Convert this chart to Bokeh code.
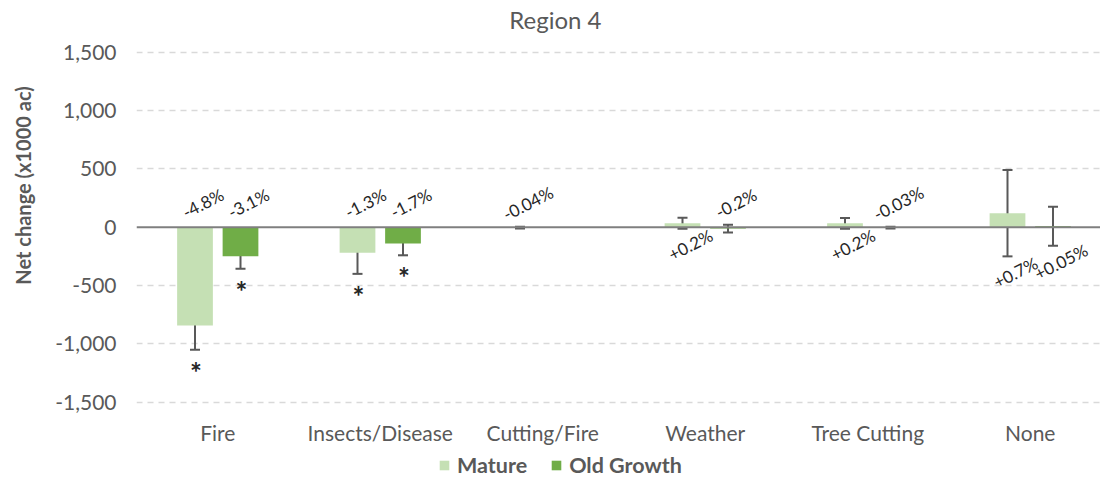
import math
from bokeh.plotting import figure
from bokeh.layouts import row
from bokeh.models import (ColumnDataSource, Range1d, FixedTicker, NumeralTickFormatter,
                          Whisker, TeeHead, Span, Legend, LegendItem)
from bokeh.core.properties import value
from bokeh.embed import file_html
from bokeh.resources import INLINE

# ---- data ----
categories = ["Fire", "Insects/Disease", "Cutting/Fire", "Weather", "Tree Cutting", "None"]
mature = [-843, -219, -4, 34, 33, 120]
mature_err = [208, 181, 7, 47, 46, 370]
mature_pct = ["-4.8%", "-1.3%", "-0.04%", "+0.2%", "+0.2%", "+0.7%"]
mature_sig = [True, True, False, False, False, False]
old_growth = [-248, -140, None, -12, -4, 8]
old_growth_err = [108, 101, None, 33, 8, 167]
old_growth_pct = ["-3.1%", "-1.7%", None, "-0.2%", "-0.03%", "+0.05%"]
old_growth_sig = [True, True, False, False, False, False]
y_ticks = [-1500, -1000, -500, 0, 500, 1000, 1500]
title = "Region 4"
y_title = "Net change (x1000 ac)"

FONT = "Lato"
GREY = "#595959"
DARK = "#262626"
C_MATURE = "#C5E0B4"
C_OLD = "#70AD47"
BAR_W = 0.22
OFFSET = 0.14

# ---- layout (pixels) ----
W, H = 1100, 478
SIDE_W = 40                     # strip holding the y-axis title
LEFT = 136                      # plot area left edge on the page
PX_PER_UNIT = 350 / 3000.0      # gridline spacing
ZERO_PX = 226.7                 # zero line from top of canvas
PX_PER_CAT = 162.5
y_end = ZERO_PX / PX_PER_UNIT
y_start = -(H - ZERO_PX) / PX_PER_UNIT
x_end = (W - LEFT) / PX_PER_CAT


def make_source(vals, errs, pcts, sigs, off):
    xs, ys, lo, hi, lab, laby, labyo, sx, sy = [], [], [], [], [], [], [], [], []
    for i, (v, e, t, s) in enumerate(zip(vals, errs, pcts, sigs)):
        if v is None:
            continue
        x = i + 0.5 + off
        xs.append(x)
        ys.append(v)
        lo.append(v - e)
        hi.append(v + e)
        lab.append(t)
        if v < 0:
            laby.append(0)
            labyo.append(-24)
        else:
            laby.append(min(0, v - e))
            labyo.append(16)
        if s:
            sx.append(x)
            sy.append(v - e)
    src = ColumnDataSource(dict(x=xs, top=ys, lower=lo, upper=hi, label=lab,
                                ly=laby, lyo=labyo))
    star = ColumnDataSource(dict(x=sx, y=sy, t=["*"] * len(sx)))
    return src, star


# ---- strip with the y-axis title ----
side = figure(width=SIDE_W, height=H, output_backend="svg", toolbar_location=None,
              x_range=Range1d(0, SIDE_W), y_range=Range1d(0, H),
              x_axis_location=None, y_axis_location=None,
              min_border_left=0, min_border_right=0, min_border_top=0,
              min_border_bottom=0)
side.outline_line_color = None
side.grid.visible = False
side.text(x=[22], y=[H - 185], text=[y_title], angle=math.pi / 2,
          text_align="center", text_baseline="middle", text_font=value(FONT),
          text_font_size="20px", text_font_style="bold", text_color=GREY)

# ---- main chart ----
p = figure(width=W - SIDE_W, height=H, output_backend="svg", toolbar_location=None,
           x_range=Range1d(0, x_end), y_range=Range1d(y_start, y_end),
           x_axis_location=None,
           min_border_left=LEFT - SIDE_W, min_border_right=0, min_border_top=0,
           min_border_bottom=0)
p.outline_line_color = None
p.background_fill_color = "white"
p.border_fill_color = "white"

# title
p.text(x=[2.578], y=[y_ticks[-1]], text=[title], y_offset=-33, text_align="center",
       text_baseline="middle", text_font=value(FONT), text_font_size="24px",
       text_color=GREY)

# grid
p.xgrid.visible = False
p.ygrid.ticker = FixedTicker(ticks=[t for t in y_ticks if t != 0])
p.ygrid.grid_line_color = "#D9D9D9"
p.ygrid.grid_line_dash = "6 5"
p.ygrid.grid_line_width = 1.3

# y axis
p.yaxis.ticker = FixedTicker(ticks=y_ticks)
p.yaxis.formatter = NumeralTickFormatter(format="0,0")
p.yaxis.axis_line_color = None
p.yaxis.major_tick_line_color = None
p.yaxis.minor_tick_line_color = None
p.yaxis.major_tick_out = 0
p.yaxis.minor_tick_out = 0
p.yaxis.major_label_text_font = FONT
p.yaxis.major_label_text_font_size = "21px"
p.yaxis.major_label_text_color = GREY
p.yaxis.major_label_standoff = 20

# category labels
p.text(x=[i + 0.5 for i in range(len(categories))], y=[y_ticks[0]] * len(categories),
       text=categories, y_offset=30, text_align="center", text_baseline="middle",
       text_font=value(FONT), text_font_size="21px", text_color=GREY)

renderers = []
for vals, errs, pcts, sigs, off, col in [
        (mature, mature_err, mature_pct, mature_sig, -OFFSET, C_MATURE),
        (old_growth, old_growth_err, old_growth_pct, old_growth_sig, OFFSET, C_OLD)]:
    src, star = make_source(vals, errs, pcts, sigs, off)
    r = p.vbar(x="x", top="top", bottom=0, width=BAR_W, source=src,
               fill_color=col, line_color=None)
    renderers.append(r)
    w = Whisker(base="x", upper="upper", lower="lower", source=src, dimension="height",
                line_color=GREY, line_width=2,
                upper_head=TeeHead(size=10, line_color=GREY, line_width=2),
                lower_head=TeeHead(size=10, line_color=GREY, line_width=2))
    p.add_layout(w)
    p.text(x="x", y="ly", text="label", source=src, y_offset="lyo", x_offset=8,
           angle=0.47, text_align="center", text_baseline="middle",
           text_font=value(FONT), text_font_size="17px", text_color=DARK)
    p.text(x="x", y="y", text="t", source=star, y_offset=22, x_offset=1,
           text_align="center", text_baseline="middle",
           text_font=value(FONT), text_font_size="28px", text_font_style="bold",
           text_color=DARK)

p.add_layout(Span(location=0, dimension="width", line_color="#7F7F7F", line_width=2))

legend = Legend(items=[LegendItem(label="Mature", renderers=[renderers[0]]),
                       LegendItem(label="Old Growth", renderers=[renderers[1]])],
                orientation="horizontal", location=(302, 0),
                label_text_font=FONT, label_text_font_size="21.5px",
                label_text_font_style="bold", label_text_color=GREY,
                glyph_width=12, glyph_height=12, label_standoff=7, spacing=23,
                padding=0, margin=0, border_line_color=None,
                background_fill_alpha=0)
p.add_layout(legend, "center")

layout = row(side, p, spacing=0)
open("out.html", "w").write(file_html(layout, INLINE))
